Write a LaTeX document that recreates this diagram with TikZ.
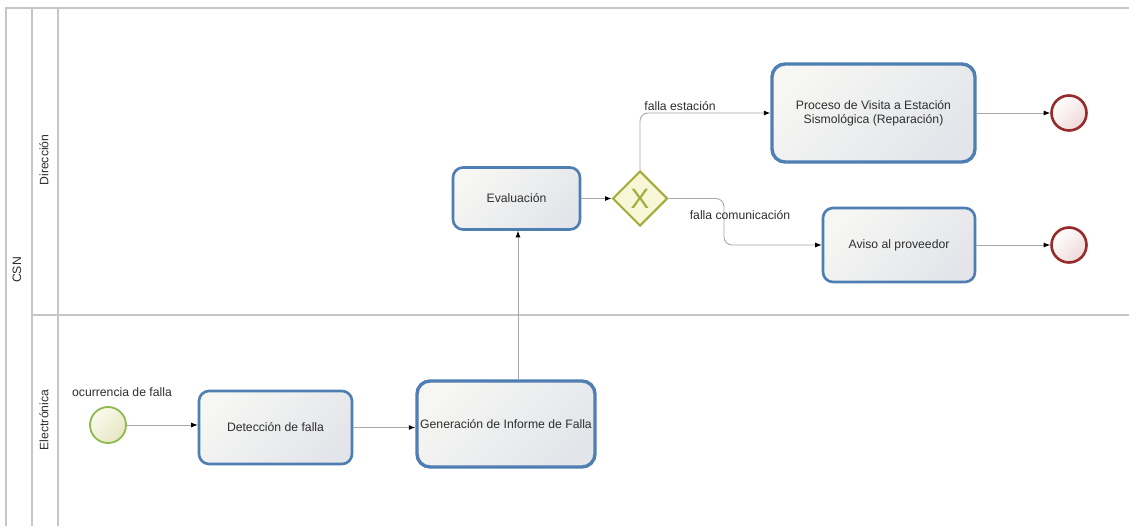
\documentclass[tikz,border=0pt]{standalone}
\usepackage{fontspec}
\setmainfont{Liberation Sans}
\usetikzlibrary{shapes.geometric,arrows.meta}
\definecolor{laneline}{HTML}{C6C6C6}
\definecolor{taskblue}{HTML}{4F7FB2}
\definecolor{flowgray}{HTML}{A9A9A9}
\definecolor{startgreen}{HTML}{8DBA4C}
\definecolor{endred}{HTML}{972A2A}
\definecolor{gwolive}{HTML}{A3AB36}
\definecolor{gwfill}{HTML}{F7F6D6}
\definecolor{txt}{HTML}{2E2E2E}
\definecolor{taskhi}{HTML}{F6F6F3}
\definecolor{tasklo}{HTML}{E3E5EA}
\definecolor{starthi}{HTML}{FBFBEE}
\definecolor{startlo}{HTML}{E6E5C2}
\definecolor{endlo}{HTML}{F0D8D8}
\tikzset{
  lane/.style={draw=laneline, line width=1.4pt},
  lanethick/.style={draw=laneline, line width=2.4pt},
  task/.style={draw=taskblue, line width=2.6pt, rounded corners=10pt,
    top color=taskhi, bottom color=tasklo, shading angle=45,
    align=center, text=txt, font=\fontsize{12.2}{14}\selectfont, inner sep=2pt},
  bigtask/.style={task, line width=3.4pt, rounded corners=13pt},
  startev/.style={circle, draw=startgreen, line width=1.8pt, minimum size=36pt, inner sep=0pt,
    top color=starthi, bottom color=startlo, shading angle=45},
  endev/.style={circle, draw=endred, line width=2.6pt, minimum size=35pt, inner sep=0pt,
    top color=white, bottom color=endlo, shading angle=45},
  gateway/.style={diamond, draw=gwolive, line width=2pt, fill=gwfill, minimum size=55pt,
    inner sep=0pt, text=gwolive, font=\fontsize{28}{28}\selectfont},
  flow/.style={draw=flowgray, line width=0.9pt, -{Latex[length=6.5pt,width=5pt,color=black]}},
  flowlabel/.style={text=txt, font=\fontsize{12.2}{14}\selectfont},
  lanelabel/.style={rotate=90, text=txt, font=\fontsize{12.2}{14}\selectfont}
}
\begin{document}
\begin{tikzpicture}[x=1pt,y=-1pt]
\useasboundingbox[fill=white] (0,0) rectangle (1129,526);

% pool and lanes
\draw[lane] (6,526) -- (6,8) -- (1129,8);
\draw[lane] (32,8) -- (32,526);
\draw[lanethick] (58,8) -- (58,526);
\draw[lanethick] (32,315) -- (1129,315);
\node[lanelabel] (pool) at (17,270) {CSN};
\node[lanelabel] (laneA) at (44,160) {Dirección};
\node[lanelabel] (laneB) at (44,420) {Electrónica};

% lane: Electrónica
\node[startev] (start) at (108,425) {};
\node[flowlabel] (startlbl) at (122,392) {ocurrencia de falla};
\node[task, minimum width=153pt, minimum height=73pt] (det) at (275.5,427.5) {Detección de falla};
\node[bigtask, minimum width=178pt, minimum height=86pt, inner sep=0pt] (gen) at (506,424) {Generación de Informe de Falla};

% lane: Dirección
\node[task, minimum width=127pt, minimum height=62pt] (eval) at (516.5,198.5) {Evaluación};
\node[gateway] (gw) at (640,198.5) {X};
\node[bigtask, minimum width=203pt, minimum height=98pt] (proc) at (873.5,113) {Proceso de Visita a Estación\\Sismológica (Reparación)};
\node[task, minimum width=152pt, minimum height=74pt] (aviso) at (899,245) {Aviso al proveedor};
\node[endev] (end1) at (1069,113) {};
\node[endev] (end2) at (1069,245) {};

% sequence flows
\draw[flow] (start.east) -- (start.east -| det.west);
\draw[flow] (det.east) -- (det.east -| gen.west);
\draw[flow] (gen.north -| 518,0) -- (eval.south -| 518,0);
\draw[flow] (eval.east) -- (gw.west);
\coordinate (split) at (724,198.5);
\draw[flow, rounded corners=8pt] (gw.north) |- (proc.west);
\draw[flow, rounded corners=8pt] (gw.east) -- (split) |- (aviso.west);
\draw[flow] (proc.east) -- (end1.west);
\draw[flow] (aviso.east) -- (end2.west);
\node[flowlabel] (lblA) at (680,106) {falla estación};
\node[flowlabel] (lblB) at (740,215) {falla comunicación};
\end{tikzpicture}
\end{document}
